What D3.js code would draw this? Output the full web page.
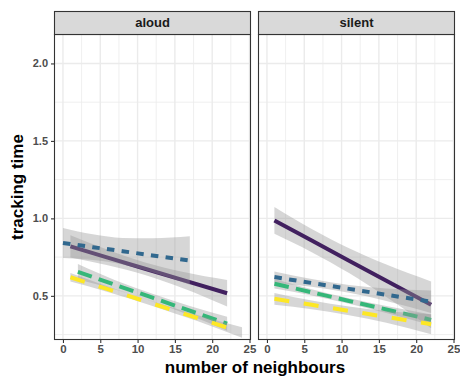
<!DOCTYPE html>
<html>
<head>
<meta charset="utf-8">
<script src="https://cdn.jsdelivr.net/npm/d3@7"></script>
<style>
  html, body { margin: 0; padding: 0; background: #ffffff; }
  svg { display: block; font-family: "Liberation Sans", Arial, Helvetica, sans-serif; }
</style>
</head>
<body>
<svg id="chart" width="460" height="377"></svg>
<script>
// ---------------- data ----------------
const panels = ["aloud", "silent"];
const xTicks = [0, 5, 10, 15, 20, 25];
const yTicks = [0.5, 1.0, 1.5, 2.0];
const yTickLabels = ["0.5", "1.0", "1.5", "2.0"];
const groups = ["g1", "g2", "g3", "g4"];

// rows: [x, fitted, lower, upper]
const aloudG1 = [[1, 0.819, 0.747, 0.891], [6, 0.747, 0.697, 0.797], [11, 0.675, 0.635, 0.715], [16, 0.603, 0.551, 0.655], [22, 0.517, 0.432, 0.602]];
const aloudG2 = [[0, 0.841, 0.744, 0.938], [4, 0.814, 0.731, 0.897], [8, 0.788, 0.702, 0.874], [12, 0.761, 0.650, 0.872], [17, 0.728, 0.572, 0.884]];
const aloudG3 = [[2, 0.655, 0.605, 0.705], [7, 0.571, 0.541, 0.601], [12, 0.488, 0.463, 0.513], [17, 0.404, 0.374, 0.434], [22, 0.320, 0.275, 0.365]];
const aloudG4 = [[1, 0.620, 0.592, 0.648], [6, 0.543, 0.525, 0.561], [12, 0.450, 0.435, 0.465], [18, 0.357, 0.337, 0.377], [24, 0.264, 0.230, 0.298]];
const aloudG4LineEnd = 22;

const silentG1 = [[1, 0.987, 0.900, 1.074], [6, 0.857, 0.782, 0.932], [11, 0.727, 0.647, 0.807], [16, 0.597, 0.492, 0.702], [22, 0.442, 0.291, 0.593]];
const silentG2 = [[1, 0.621, 0.585, 0.657], [6, 0.583, 0.558, 0.608], [11, 0.545, 0.520, 0.570], [16, 0.507, 0.467, 0.547], [22, 0.462, 0.390, 0.534]];
const silentG3 = [[1, 0.578, 0.548, 0.608], [6, 0.523, 0.503, 0.543], [11, 0.467, 0.449, 0.485], [16, 0.412, 0.390, 0.434], [22, 0.345, 0.310, 0.380]];
const silentG4 = [[1, 0.481, 0.443, 0.519], [6, 0.442, 0.414, 0.470], [11, 0.403, 0.375, 0.431], [16, 0.364, 0.326, 0.402], [22, 0.317, 0.252, 0.382]];

const panelData = {
  aloud: [aloudG1, aloudG2, aloudG3, aloudG4],
  silent: [silentG1, silentG2, silentG3, silentG4]
};
const lineEnds = { aloud: [Infinity, Infinity, Infinity, aloudG4LineEnd], silent: [Infinity, Infinity, Infinity, Infinity] };

// ---------------- styles ----------------
const colors = ["#41205f", "#31688e", "#35b779", "#fde725"];
const dashes = [null, "7.5,7.3", "14.7,7.3", "15,14.7"];

// ---------------- layout ----------------
const svg = d3.select("#chart");
const panelBoxes = { aloud: [54, 251], silent: [258, 455] };
const stripTop = 11, panelTop = 34, panelBottom = 340;

const y = d3.scaleLinear().domain([0.215, 2.19]).range([panelBottom, panelTop]);

panels.forEach((p, pi) => {
  const [x0, x1] = panelBoxes[p];
  const x = d3.scaleLinear().domain([-1.2, 25.2]).range([x0, x1]);
  const g = svg.append("g");

  g.append("rect").attr("x", x0).attr("y", panelTop).attr("width", x1 - x0).attr("height", panelBottom - panelTop).attr("fill", "#ffffff");

  // minor grid
  const xMinor = [2.5, 7.5, 12.5, 17.5, 22.5];
  const yMinor = [0.25, 0.75, 1.25, 1.75];
  g.selectAll(".vminor").data(xMinor).enter().append("line")
    .attr("x1", d => x(d)).attr("x2", d => x(d)).attr("y1", panelTop).attr("y2", panelBottom)
    .attr("stroke", "#ebebeb").attr("stroke-width", 0.8);
  g.selectAll(".hminor").data(yMinor).enter().append("line")
    .attr("y1", d => y(d)).attr("y2", d => y(d)).attr("x1", x0).attr("x2", x1)
    .attr("stroke", "#ebebeb").attr("stroke-width", 0.8);
  // major grid
  g.selectAll(".vmajor").data(xTicks).enter().append("line")
    .attr("x1", d => x(d)).attr("x2", d => x(d)).attr("y1", panelTop).attr("y2", panelBottom)
    .attr("stroke", "#ebebeb").attr("stroke-width", 1.4);
  g.selectAll(".hmajor").data(yTicks).enter().append("line")
    .attr("y1", d => y(d)).attr("y2", d => y(d)).attr("x1", x0).attr("x2", x1)
    .attr("stroke", "#ebebeb").attr("stroke-width", 1.4);

  const clipId = "clip-" + p;
  svg.append("clipPath").attr("id", clipId).append("rect")
    .attr("x", x0).attr("y", panelTop).attr("width", x1 - x0).attr("height", panelBottom - panelTop);
  const plot = g.append("g").attr("clip-path", `url(#${clipId})`);

  const area = d3.area().x(d => x(d[0])).y0(d => y(d[2])).y1(d => y(d[3])).curve(d3.curveMonotoneX);
  const line = d3.line().x(d => x(d[0])).y(d => y(d[1]));

  panelData[p].forEach((rows, gi) => {
    plot.append("path").datum(rows).attr("d", area)
      .attr("fill", "#999999").attr("fill-opacity", 0.4).attr("stroke", "none");
    const lineRows = rows.filter(r => r[0] <= lineEnds[p][gi]);
    let lr = lineRows;
    if (isFinite(lineEnds[p][gi])) {
      const a = rows[0], b = rows[rows.length - 1];
      const e = lineEnds[p][gi];
      const t = (e - a[0]) / (b[0] - a[0]);
      lr = lineRows.concat([[e, a[1] + t * (b[1] - a[1])]]);
    }
    const path = plot.append("path").datum(lr).attr("d", line)
      .attr("fill", "none").attr("stroke", colors[gi]).attr("stroke-width", 4)
      .attr("stroke-linecap", "butt");
    if (dashes[gi]) path.attr("stroke-dasharray", dashes[gi]);
  });

  // panel border
  g.append("rect").attr("x", x0 + 0.5).attr("y", panelTop + 0.5).attr("width", x1 - x0 - 1).attr("height", panelBottom - panelTop - 1)
    .attr("fill", "none").attr("stroke", "#333333").attr("stroke-width", 1.1);

  // strip
  g.append("rect").attr("x", x0 + 0.5).attr("y", stripTop + 0.5).attr("width", x1 - x0 - 1).attr("height", panelTop - stripTop)
    .attr("fill", "#d9d9d9").attr("stroke", "#333333").attr("stroke-width", 1.1);
  g.append("text").attr("x", (x0 + x1) / 2).attr("y", (stripTop + panelTop) / 2 + 4.5)
    .attr("text-anchor", "middle").attr("font-size", "13px").attr("font-weight", "bold").attr("fill", "#1a1a1a")
    .text(p);

  // x axis
  const xAxis = d3.axisBottom(x).tickValues(xTicks).tickSize(3).tickPadding(2).tickFormat(d3.format("d"));
  const ax = g.append("g").attr("transform", `translate(0,${panelBottom})`).call(xAxis);
  ax.select(".domain").remove();
  ax.selectAll(".tick line").attr("stroke", "#333333").attr("stroke-width", 1.1);
  ax.selectAll(".tick text").attr("font-size", "11.5px").attr("font-weight", "bold").attr("fill", "#4d4d4d")
    .attr("font-family", "Liberation Sans, Arial, sans-serif");

  if (pi === 0) {
    const yAxis = d3.axisLeft(y).tickValues(yTicks).tickSize(3).tickPadding(3)
      .tickFormat((d, i) => yTickLabels[i]);
    const ay = g.append("g").attr("transform", `translate(${x0},0)`).call(yAxis);
    ay.select(".domain").remove();
    ay.selectAll(".tick line").attr("stroke", "#333333").attr("stroke-width", 1.1);
    ay.selectAll(".tick text").attr("font-size", "11px").attr("font-weight", "bold").attr("fill", "#4d4d4d")
      .attr("font-family", "Liberation Sans, Arial, sans-serif");
  }
});

// axis titles
svg.append("text").attr("x", 255).attr("y", 373).attr("text-anchor", "middle")
  .attr("font-size", "17px").attr("font-weight", "bold").attr("fill", "#000000").text("number of neighbours");
svg.append("text").attr("transform", "translate(23,187) rotate(-90)").attr("text-anchor", "middle")
  .attr("font-size", "17px").attr("font-weight", "bold").attr("fill", "#000000").text("tracking time");
</script>
</body>
</html>
